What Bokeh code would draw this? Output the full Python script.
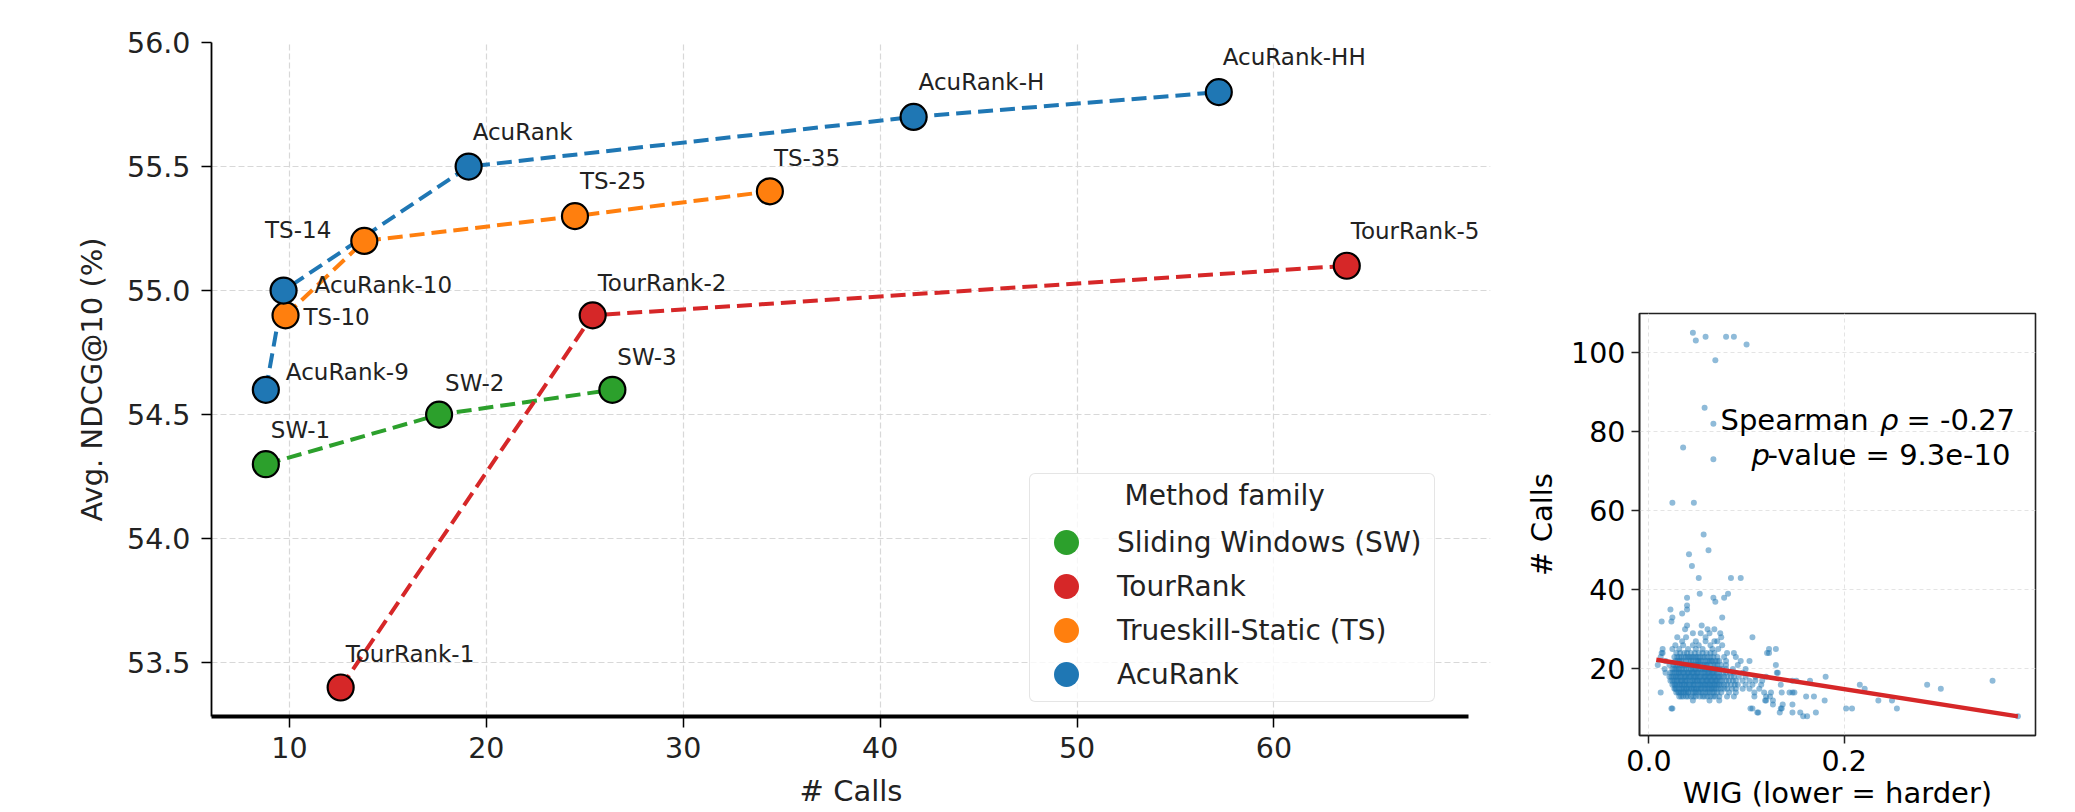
from bokeh.plotting import figure
from bokeh.models import (Range1d, FixedTicker, Legend, LegendItem, Label, LabelSet,
                          ColumnDataSource, NumeralTickFormatter)
from bokeh.layouts import row
from bokeh.embed import file_html
from bokeh.resources import INLINE
from bokeh.core.properties import value

FONT = "DejaVu Sans"
TXT = "#222222"
TICK_FS = "28.5px"
LABEL_FS = "29px"

# ---------------- left panel data ----------------
families = ["Sliding Windows (SW)", "TourRank", "Trueskill-Static (TS)", "AcuRank"]
family_colors = ["#2ca02c", "#d62728", "#ff7f0e", "#1f77b4"]

sw_names = ["SW-1", "SW-2", "SW-3"]
sw_calls = [8.8, 17.6, 26.4]
sw_ndcg = [54.3, 54.5, 54.6]

tr_names = ["TourRank-1", "TourRank-2", "TourRank-5"]
tr_calls = [12.6, 25.4, 63.7]
tr_ndcg = [53.4, 54.9, 55.1]

ts_names = ["TS-10", "TS-14", "TS-25", "TS-35"]
ts_calls = [9.8, 13.8, 24.5, 34.4]
ts_ndcg = [54.9, 55.2, 55.3, 55.4]

acu_names = ["AcuRank-9", "AcuRank-10", "AcuRank", "AcuRank-H", "AcuRank-HH"]
acu_calls = [8.8, 9.7, 19.1, 41.7, 57.2]
acu_ndcg = [54.6, 55.0, 55.5, 55.7, 55.8]

left_x_ticks = [10, 20, 30, 40, 50, 60]
left_y_ticks = [53.5, 54.0, 54.5, 55.0, 55.5, 56.0]

# ---------------- right panel data ----------------
calls_levels = [105, 104, 103, 102, 98, 86, 82, 76, 73, 62, 54, 50, 49, 46, 43, 39, 38, 37, 36, 35,
                34, 33, 32, 31, 30, 29, 28, 27, 26, 25, 24, 23, 22, 21, 20, 19, 18, 17, 16, 15,
                14, 13, 12, 11, 10, 9, 8]
wig_by_level = [
    [0.045],
    [0.058, 0.079, 0.087],
    [0.048],
    [0.100],
    [0.068],
    [0.057],
    [0.066],
    [0.035],
    [0.066],
    [0.024, 0.046],
    [0.056],
    [0.061],
    [0.041],
    [0.044],
    [0.051, 0.084, 0.094],
    [0.052, 0.081],
    [0.039, 0.066, 0.077],
    [0.068],
    [0.039],
    [0.022, 0.039],
    [0.034],
    [0.024, 0.075],
    [0.013, 0.023],
    [0.039, 0.054],
    [0.037, 0.060, 0.067],
    [0.045, 0.053, 0.062, 0.073],
    [0.029, 0.038, 0.058, 0.074, 0.106],
    [0.034, 0.048, 0.058, 0.067, 0.070],
    [0.027, 0.035, 0.045, 0.051, 0.063, 0.075],
    [0.014, 0.024, 0.031, 0.040, 0.048, 0.055, 0.065, 0.071, 0.123, 0.130],
    [0.013, 0.014, 0.028, 0.032, 0.036, 0.039, 0.043, 0.047, 0.051, 0.055, 0.059, 0.063, 0.067,
     0.080, 0.087, 0.121, 0.123],
    [0.012, 0.026, 0.029, 0.031, 0.033, 0.036, 0.038, 0.040, 0.042, 0.044, 0.046, 0.048, 0.050,
     0.052, 0.055, 0.057, 0.060, 0.063, 0.066, 0.070, 0.077, 0.089],
    [0.017, 0.027, 0.029, 0.031, 0.033, 0.035, 0.038, 0.041, 0.043, 0.045, 0.048, 0.050, 0.051,
     0.053, 0.055, 0.058, 0.060, 0.062, 0.064, 0.065, 0.068, 0.070, 0.072, 0.079, 0.094, 0.103],
    [0.009, 0.021, 0.025, 0.027, 0.029, 0.032, 0.034, 0.036, 0.038, 0.040, 0.043, 0.045, 0.047,
     0.049, 0.050, 0.053, 0.055, 0.057, 0.059, 0.060, 0.063, 0.066, 0.068, 0.070, 0.074, 0.079,
     0.091, 0.130],
    [0.016, 0.024, 0.026, 0.028, 0.030, 0.031, 0.034, 0.036, 0.038, 0.041, 0.043, 0.045, 0.047,
     0.048, 0.051, 0.053, 0.055, 0.057, 0.058, 0.061, 0.063, 0.065, 0.068, 0.070, 0.072, 0.075,
     0.079, 0.086, 0.099],
    [0.017, 0.022, 0.024, 0.026, 0.028, 0.030, 0.031, 0.033, 0.035, 0.036, 0.039, 0.040, 0.041,
     0.044, 0.045, 0.046, 0.049, 0.050, 0.051, 0.054, 0.056, 0.057, 0.060, 0.061, 0.062, 0.065,
     0.066, 0.067, 0.070, 0.072, 0.076, 0.079, 0.083, 0.087, 0.096, 0.131, 0.132],
    [0.021, 0.023, 0.025, 0.027, 0.028, 0.030, 0.032, 0.033, 0.036, 0.037, 0.038, 0.041, 0.042,
     0.043, 0.046, 0.047, 0.048, 0.050, 0.052, 0.053, 0.056, 0.057, 0.058, 0.061, 0.062, 0.063,
     0.066, 0.067, 0.068, 0.071, 0.072, 0.074, 0.077, 0.080, 0.084, 0.087, 0.092, 0.099, 0.109,
     0.120, 0.181],
    [0.022, 0.024, 0.026, 0.028, 0.029, 0.032, 0.033, 0.034, 0.037, 0.038, 0.039, 0.042, 0.044,
     0.045, 0.047, 0.049, 0.050, 0.052, 0.054, 0.055, 0.058, 0.059, 0.060, 0.063, 0.064, 0.065,
     0.068, 0.069, 0.070, 0.073, 0.075, 0.079, 0.082, 0.086, 0.089, 0.096, 0.103, 0.109, 0.116,
     0.147, 0.151, 0.165, 0.352],
    [0.024, 0.026, 0.027, 0.029, 0.031, 0.032, 0.034, 0.036, 0.037, 0.039, 0.041, 0.042, 0.045,
     0.046, 0.047, 0.050, 0.052, 0.053, 0.055, 0.057, 0.058, 0.060, 0.062, 0.063, 0.065, 0.067,
     0.068, 0.070, 0.072, 0.074, 0.077, 0.080, 0.084, 0.088, 0.091, 0.099, 0.106, 0.115, 0.135,
     0.216, 0.285],
    [0.026, 0.027, 0.028, 0.031, 0.033, 0.034, 0.036, 0.038, 0.039, 0.041, 0.043, 0.044, 0.046,
     0.048, 0.049, 0.051, 0.053, 0.054, 0.057, 0.058, 0.060, 0.062, 0.064, 0.065, 0.067, 0.069,
     0.071, 0.074, 0.077, 0.080, 0.085, 0.089, 0.096, 0.103, 0.113, 0.221, 0.299],
    [0.012, 0.028, 0.030, 0.031, 0.033, 0.035, 0.036, 0.038, 0.040, 0.041, 0.045, 0.047, 0.048,
     0.051, 0.053, 0.055, 0.058, 0.060, 0.062, 0.065, 0.067, 0.070, 0.074, 0.082, 0.089, 0.108,
     0.118, 0.125, 0.136, 0.144, 0.147, 0.149],
    [0.031, 0.033, 0.035, 0.038, 0.040, 0.043, 0.046, 0.048, 0.052, 0.055, 0.057, 0.060, 0.063,
     0.066, 0.068, 0.072, 0.080, 0.087, 0.108, 0.120, 0.124, 0.161, 0.169],
    [0.045, 0.062, 0.072, 0.119, 0.120, 0.127, 0.180, 0.235, 0.249],
    [0.127, 0.137, 0.147],
    [0.023, 0.024, 0.104, 0.106, 0.135, 0.136, 0.202, 0.208, 0.254],
    [0.111, 0.112, 0.134, 0.147, 0.155, 0.171],
    [0.158, 0.162, 0.378],
]
scatter_wig = [w for ws in wig_by_level for w in ws]
scatter_calls = [c for c, ws in zip(calls_levels, wig_by_level) for _ in ws]

fit_wig = [0.0075, 0.378]
fit_calls = [22.3, 8.0]

right_x_ticks = [0.0, 0.2]
right_y_ticks = [20, 40, 60, 80, 100]

# ---------------- label placement (style) ----------------
label_style = {
    "SW-1": (5, 26, "left"), "SW-2": (6, 24, "left"), "SW-3": (5, 25, "left"),
    "TourRank-1": (5, 25, "left"), "TourRank-2": (5, 24, "left"), "TourRank-5": (4, 27, "left"),
    "TS-10": (18, -10, "left"), "TS-14": (-33, 3, "right"), "TS-25": (5, 27, "left"),
    "TS-35": (4, 25, "left"),
    "AcuRank-9": (20, 10, "left"), "AcuRank-10": (31, -2, "left"), "AcuRank": (4, 27, "left"),
    "AcuRank-H": (5, 27, "left"), "AcuRank-HH": (4, 27, "left"),
}

X0, X_AXIS_END, X1 = 6.04, 69.9, 71.0
Y0, Y1 = 53.283, 56.0

# ================= left figure =================
p1 = figure(width=1492, height=812, x_range=Range1d(X0, X1), y_range=Range1d(Y0, Y1),
            output_backend="svg", toolbar_location=None,
            min_border_left=211, min_border_right=2, min_border_top=42, min_border_bottom=96)
try:
    p1.frame_align = False
except Exception:
    pass
p1.outline_line_color = None
p1.background_fill_color = "white"

p1.xaxis.ticker = FixedTicker(ticks=left_x_ticks)
p1.yaxis.ticker = FixedTicker(ticks=left_y_ticks)
p1.yaxis.formatter = NumeralTickFormatter(format="0.0")
for ax in (p1.xaxis, p1.yaxis):
    ax.major_label_text_font = FONT
    ax.major_label_text_font_size = TICK_FS
    ax.major_label_text_color = TXT
    ax.minor_tick_line_color = None
    ax.major_tick_in = 0
    ax.major_tick_line_color = "black"
    ax.major_tick_line_width = 1.5
    ax.axis_line_color = "black"
    ax.axis_label_text_font = FONT
    ax.axis_label_text_font_size = LABEL_FS
    ax.axis_label_text_font_style = "normal"
    ax.axis_label_text_color = TXT
p1.xaxis.bounds = (X0, X_AXIS_END)
p1.xaxis.major_tick_out = 11
p1.yaxis.major_tick_out = 10
p1.xaxis.axis_line_width = 4
p1.yaxis.axis_line_width = 1.8
p1.xaxis.major_label_standoff = 9
p1.yaxis.major_label_standoff = 11
p1.xaxis.axis_label = "# Calls"
p1.xaxis.axis_label_standoff = 13
p1.yaxis.axis_label = "Avg. NDCG@10 (%)"
p1.yaxis.axis_label_standoff = 15

p1.grid.grid_line_color = "#d8d8d8"
p1.grid.grid_line_dash = "6 3"
p1.grid.grid_line_width = 1.2
p1.xgrid.ticker = FixedTicker(ticks=left_x_ticks)
p1.ygrid.ticker = FixedTicker(ticks=left_y_ticks)
p1.ygrid.bounds = (X0, X_AXIS_END)

series = [
    (sw_names, sw_calls, sw_ndcg),
    (tr_names, tr_calls, tr_ndcg),
    (ts_names, ts_calls, ts_ndcg),
    (acu_names, acu_calls, acu_ndcg),
]
for (names, xs, ys), col in zip(series, family_colors):
    p1.line(xs, ys, line_color=col, line_width=4, line_dash="15 7")
for (names, xs, ys), col in zip(series, family_colors):
    p1.scatter(xs, ys, marker="circle", size=26, fill_color=col, line_color="black",
               line_width=2.2)

# point labels
for align in ("left", "right"):
    lx, ly, lt, dx, dy = [], [], [], [], []
    for names, xs, ys in series:
        for n, xv, yv in zip(names, xs, ys):
            ox, oy, al = label_style[n]
            if al != align:
                continue
            lx.append(xv); ly.append(yv); lt.append(n); dx.append(ox); dy.append(oy)
    src = ColumnDataSource(dict(x=lx, y=ly, text=lt, dx=dx, dy=dy))
    p1.add_layout(LabelSet(x="x", y="y", text="text", source=src, x_offset="dx", y_offset="dy",
                           text_align=align, text_baseline="alphabetic", text_font=value(FONT),
                           text_font_size=value("23px"), text_color=TXT))

# legend: a one-point line per family (draws nothing on the plot) whose legend glyph is a dot
dummies = []
for (names, xs, ys), col in zip(series, family_colors):
    dummies.append(p1.line(x=[xs[0]], y=[ys[0]], line_color=col, line_width=25,
                           line_cap="round", line_dash="0 1000", line_dash_offset=-31))
legend = Legend(items=[LegendItem(label=f, renderers=[r]) for f, r in zip(families, dummies)],
                location=(818, 14), orientation="vertical",
                title="\u2003\u2003\u2003\u2009Method family",
                title_text_font=FONT, title_text_font_size="28px", title_text_font_style="normal",
                title_text_color=TXT, title_standoff=8,
                padding=5, spacing=0, margin=0,
                glyph_width=62, glyph_height=44, label_standoff=20, label_width=312,
                label_text_font=FONT, label_text_font_size="28px", label_text_color=TXT,
                border_line_color="#cccccc", border_line_width=1.5,
                background_fill_color="white", background_fill_alpha=0.8)
try:
    legend.border_radius = 6
except Exception:
    pass
p1.add_layout(legend)

# ================= right figure =================
p2 = figure(width=583, height=812, x_range=Range1d(-0.0097, 0.396), y_range=Range1d(3.16, 109.85),
            output_backend="svg", toolbar_location=None,
            min_border_left=147, min_border_right=40, min_border_top=313, min_border_bottom=77)
try:
    p2.frame_align = False
except Exception:
    pass
p2.outline_line_color = "#222222"
p2.outline_line_width = 1.6
p2.xaxis.ticker = FixedTicker(ticks=right_x_ticks)
p2.yaxis.ticker = FixedTicker(ticks=right_y_ticks)
p2.xaxis.formatter = NumeralTickFormatter(format="0.0")
for ax in (p2.xaxis, p2.yaxis):
    ax.major_label_text_font = FONT
    ax.major_label_text_font_size = TICK_FS
    ax.major_label_text_color = "black"
    ax.minor_tick_line_color = None
    ax.major_tick_in = 0
    ax.major_tick_out = 8
    ax.major_tick_line_width = 1.5
    ax.major_tick_line_color = "#222222"
    ax.axis_line_color = "#222222"
    ax.axis_line_width = 1.6
    ax.axis_label_text_font = FONT
    ax.axis_label_text_font_size = LABEL_FS
    ax.axis_label_text_font_style = "normal"
    ax.axis_label_text_color = "black"
p2.xaxis.major_label_standoff = 6
p2.yaxis.major_label_standoff = 6
p2.xaxis.axis_label = "WIG (lower = harder)"
p2.xaxis.axis_label_standoff = 2
p2.yaxis.axis_label = "# Calls"
p2.yaxis.axis_label_standoff = 9
p2.grid.grid_line_color = "#e4e4e4"
p2.grid.grid_line_dash = "4 3"
p2.grid.grid_line_width = 1
p2.xgrid.ticker = FixedTicker(ticks=right_x_ticks)
p2.ygrid.ticker = FixedTicker(ticks=right_y_ticks)

p2.scatter(scatter_wig, scatter_calls, marker="circle", size=6, fill_color="#1f77b4",
           fill_alpha=0.5, line_color=None)
p2.line(fit_wig, fit_calls, line_color="#d62728", line_width=4.5)

def lab(fig, x, y, text, style="normal"):
    fig.add_layout(Label(x=x, y=y, x_units="screen", y_units="screen", text=text,
                         text_align="left", text_baseline="alphabetic", text_font=FONT,
                         text_font_size="29px", text_font_style=style, text_color="black"))

lab(p2, 81, 315.7, "Spearman")
lab(p2, 240.5, 315.7, "ρ", style="italic")
lab(p2, 267, 315.7, "= -0.27")
lab(p2, 112, 280.7, "p", style="italic")
lab(p2, 128, 280.7, "-value = 9.3e-10")

layout = row(p1, p2, spacing=0)
open("out.html", "w").write(file_html(layout, INLINE))
